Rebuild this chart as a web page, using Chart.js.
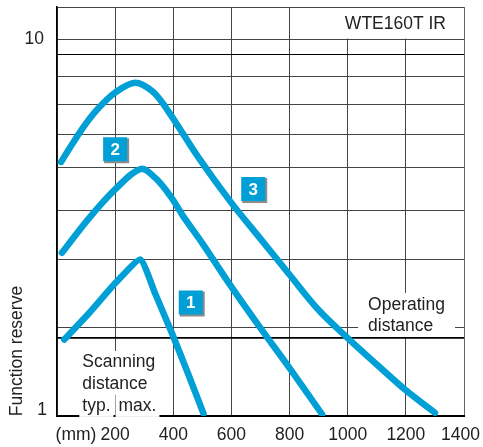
<!DOCTYPE html>
<html>
<head>
<meta charset="utf-8">
<script src="https://cdn.jsdelivr.net/npm/chart.js@4/dist/chart.umd.min.js"></script>
<style>
  html, body { margin: 0; padding: 0; background: #fff; }
</style>
</head>
<body>
<canvas id="chart" width="483" height="447" aria-label="WTE160T IR function reserve" role="img"></canvas>
<script>
// scanning distance (mm) against function reserve
const lowX = [25, 109, 200, 287, 338, 396, 450, 504];
const lowY = [1.595, 1.87, 2.25, 2.60, 2.11, 1.654, 1.30, 1.015];
const midX = [17, 109, 200, 287, 338, 390, 435, 500, 600, 700, 800, 912];
const midY = [2.71, 3.34, 3.99, 4.52, 4.28, 3.83, 3.38, 2.87, 2.20, 1.71, 1.34, 1.01];
const highX = [14, 52, 97, 143, 200, 269, 327, 373, 493, 596, 700, 800, 900, 1000, 1100, 1200, 1300];
const highY = [4.72, 5.26, 5.93, 6.56, 7.21, 7.66, 7.28, 6.60, 4.77, 3.71, 2.95, 2.37, 1.91, 1.61, 1.37, 1.17, 1.02];

const xTicks = [0, 200, 400, 600, 800, 1000, 1200, 1400];
const yGrid = [1, 1.611, 1.717, 2.6, 3.5, 4.55, 5.58, 6.71, 7.93, 9.07, 10, 12.16];
const yLabels = [10, 1];
const operatingLevel = 1.611;

const badgeLabels = ['1', '2', '3'];
const badgeX = [460, 200, 675];
const badgeY = [2.0, 5.1, 4.0];

const BLUE = '#009fd6';
const FONT = '17.5px "Liberation Sans", Arial, sans-serif';

const toPoints = (xs, ys) => xs.map((x, i) => ({ x: x, y: ys[i] }));

const curve = (xs, ys, tension) => ({
    data: toPoints(xs, ys),
    borderColor: BLUE,
    borderWidth: 6.5,
    borderCapStyle: 'round',
    borderJoinStyle: 'round',
    pointRadius: 0,
    fill: false,
    tension: tension
});

// words with a white box behind them, like the datasheet
const boxedWord = (ctx, text, x, y) => {
    const w = ctx.measureText(text).width;
    ctx.fillStyle = '#fff';
    ctx.fillRect(x - 3, y - 11, w + 6, 22);
    ctx.fillStyle = '#222';
    ctx.fillText(text, x, y);
    return w;
};

const overlay = {
    id: 'overlay',
    afterDraw(chart) {
        const { ctx, chartArea: a, scales: { x, y } } = chart;
        ctx.save();
        ctx.font = FONT;
        ctx.fillStyle = '#222';
        ctx.textBaseline = 'middle';

        // y labels
        ctx.textAlign = 'right';
        ctx.fillText(String(yLabels[0]), a.left - 13, y.getPixelForValue(yLabels[0]));
        ctx.fillText(String(yLabels[1]), a.left - 10, y.getPixelForValue(yLabels[1]) - 6);

        // x labels
        ctx.textAlign = 'center';
        const labelY = a.bottom + 19;
        xTicks.forEach((v, i) => {
            if (v === 0) return;
            if (i === xTicks.length - 1) {
                ctx.textAlign = 'right';
                ctx.fillText(String(v), chart.width - 3, labelY);
                ctx.textAlign = 'center';
            } else {
                ctx.fillText(String(v), x.getPixelForValue(v), labelY);
            }
        });
        ctx.fillText('(mm)', a.left + 19, labelY);

        // axis title
        ctx.save();
        ctx.translate(17, 351);
        ctx.rotate(-Math.PI / 2);
        ctx.fillText('Function reserve', 0, 0);
        ctx.restore();

        // type box
        const ten = y.getPixelForValue(10);
        const boxLeft = x.getPixelForValue(800) + 1;
        ctx.fillStyle = '#fff';
        ctx.fillRect(boxLeft, a.top + 1, a.right - boxLeft - 1, ten - a.top - 1.5);
        ctx.fillStyle = '#222';
        ctx.textAlign = 'right';
        ctx.fillText('WTE160T IR', a.right - 18, a.top + 17);

        // operating distance note
        const opY = y.getPixelForValue(operatingLevel);
        const noteX = x.getPixelForValue(1070);
        ctx.fillStyle = '#fff';
        ctx.fillRect(noteX - 10, opY - 45, 97, 44);
        ctx.fillStyle = '#222';
        ctx.textAlign = 'left';
        ctx.fillText('Operating', noteX, opY - 33);
        ctx.fillText('distance', noteX, opY - 12);

        // scanning distance note
        const scanX = x.getPixelForValue(87);
        boxedWord(ctx, 'Scanning', scanX, opY + 24);
        boxedWord(ctx, 'distance', scanX, opY + 46);
        const w = boxedWord(ctx, 'typ.', scanX, opY + 68);
        boxedWord(ctx, 'max.', scanX + w + 8, opY + 68);

        // numbered badges
        ctx.font = 'bold 17px "Liberation Sans", Arial, sans-serif';
        ctx.textAlign = 'center';
        badgeLabels.forEach((t, i) => {
            const bx = x.getPixelForValue(badgeX[i]);
            const by = y.getPixelForValue(badgeY[i]);
            ctx.fillStyle = '#8c8c8c';
            ctx.fillRect(bx - 11, by - 11, 25, 25);
            ctx.fillStyle = BLUE;
            ctx.fillRect(bx - 12, by - 12, 24, 24);
            ctx.fillStyle = '#fff';
            ctx.fillText(t, bx, by + 1);
        });
        ctx.restore();
    }
};

new Chart(document.getElementById('chart'), {
    type: 'line',
    data: {
        datasets: [
            curve(highX, highY, 0.35),
            curve(midX, midY, 0.35),
            curve(lowX, lowY, 0.15)
        ]
    },
    options: {
        responsive: false,
        animation: false,
        layout: { padding: { left: 57, top: 7, right: 19, bottom: 31 } },
        plugins: { legend: { display: false }, tooltip: { enabled: false } },
        scales: {
            x: {
                type: 'linear',
                min: 0,
                max: 1400,
                afterBuildTicks: axis => { axis.ticks = xTicks.map(v => ({ value: v })); },
                ticks: { display: false },
                grid: {
                    drawTicks: false,
                    color: c => (c.tick && c.tick.value === 1400 ? '#666' : '#444'),
                    lineWidth: 1
                },
                border: { color: '#000', width: 2 }
            },
            y: {
                type: 'logarithmic',
                min: 1,
                max: 12.16,
                afterBuildTicks: axis => { axis.ticks = yGrid.map(v => ({ value: v })); },
                ticks: { display: false },
                grid: {
                    drawTicks: false,
                    color: c => {
                        const v = c.tick ? c.tick.value : 0;
                        return (v === operatingLevel || v === 9.07) ? '#000' : '#444';
                    },
                    lineWidth: c => {
                        const v = c.tick ? c.tick.value : 0;
                        return v === operatingLevel ? 1.8 : 1;
                    }
                },
                border: { color: '#000', width: 1.5 }
            }
        }
    },
    plugins: [overlay]
});
</script>
</body>
</html>
